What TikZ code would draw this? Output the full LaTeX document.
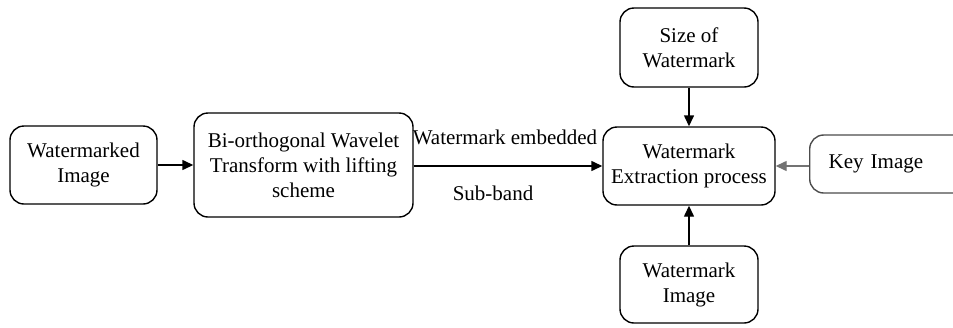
\documentclass[tikz,border=0pt]{standalone}
\usepackage{fontspec}
\setmainfont{Liberation Serif}
\usetikzlibrary{arrows.meta}
\begin{document}
\begin{tikzpicture}[x=0.5pt,y=-0.5pt,
  blk/.style={draw, line width=0.7pt, rounded corners=7pt, align=center, inner sep=0pt,
     font=\fontsize{10.5}{12.5}\selectfont},
  arr/.style={line width=0.7pt, -{Triangle[length=5.5pt,width=5pt]}},
  lbl/.style={font=\fontsize{10.5}{12.5}\selectfont, inner sep=0pt}]
\useasboundingbox (0,0) rectangle (953,327);
\clip (0,0) rectangle (953,327);
\node[blk, minimum width=73.5pt, minimum height=39pt] (wimg) at (83.5,165) {Watermarked\\Image};
\node[blk, minimum width=109.5pt, minimum height=52pt] (bwt) at (303.5,165) {Bi-orthogonal Wavelet\\Transform with lifting\\scheme};
\node[blk, minimum width=86pt, minimum height=39pt] (ext) at (689,166) {Watermark\\Extraction process};
\node[blk, minimum width=69pt, minimum height=39.5pt] (size) at (689,47.5) {Size of\\Watermark};
\node[blk, minimum width=69pt, minimum height=38.5pt] (wm) at (689,284.5) {Watermark\\Image};
\node[blk, draw=black!70, anchor=west, minimum width=90pt, minimum height=29pt, inner xsep=9.5pt,
      text width=71pt, align=left] (key) at (809,164) {Key Image};
\node[lbl] (emb) at (505,137) {Watermark embedded};
\node[lbl] (sub) at (493,193) {Sub-band};
\draw[arr] (wimg.east) -- (bwt.west);
\draw[arr] (bwt.east |- ext.west) -- (ext.west);
\draw[arr] (size.south) -- (ext.north);
\draw[arr] (wm.north) -- (ext.south);
\draw[arr, draw=black!55] (key.west |- ext.east) -- (ext.east);
\end{tikzpicture}
\end{document}
